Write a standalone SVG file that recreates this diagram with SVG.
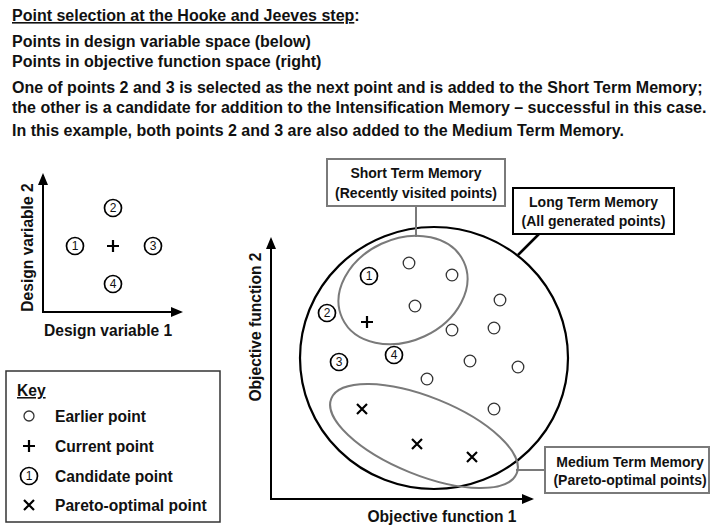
<svg xmlns="http://www.w3.org/2000/svg" width="711" height="527" viewBox="0 0 711 527">
<style>
text{font-family:"Liberation Sans",Arial,sans-serif;fill:#111;}
.t{font-size:16px;font-weight:bold;}
.lab{font-size:15.6px;font-weight:bold;}
.box{font-size:14px;font-weight:bold;text-anchor:middle;}
.num{font-size:12px;text-anchor:middle;}
.axis{stroke:#000;stroke-width:2;fill:none;}
.pt{fill:#fff;stroke:#333;stroke-width:1.3;}
.cand{fill:#fff;stroke:#000;stroke-width:1.7;}
.plus{stroke:#000;stroke-width:2.2;fill:none;}
.x{stroke:#000;stroke-width:2.2;fill:none;}
.gray{stroke:#7a7a7a;stroke-width:2;fill:none;}
.grayBox{stroke:#7a7a7a;stroke-width:2;fill:#fff;}
.blackBox{stroke:#000;stroke-width:2;fill:#fff;}
</style>
<defs>
<marker id="arr" markerUnits="userSpaceOnUse" markerWidth="12" markerHeight="10" viewBox="0 0 12 10" refX="10" refY="5" orient="auto">
<path d="M0,0 L12,5 L0,10 z" fill="#000"/>
</marker>
<g id="plusSym"><path class="plus" d="M-6,0 H6 M0,-6 V6"/></g>
<g id="xSym"><path class="x" d="M-5,-5 L5,5 M-5,5 L5,-5"/></g>
</defs>
<rect width="711" height="527" fill="#fff"/>

<g id="header">
<text class="t" x="12" y="21"><tspan text-decoration="underline">Point selection at the Hooke and Jeeves step</tspan>:</text>
<text class="t" x="12" y="47">Points in design variable space (below)</text>
<text class="t" x="12" y="67">Points in objective function space (right)</text>
<text class="t" x="12" y="93">One of points 2 and 3 is selected as the next point and is added to the Short Term Memory;</text>
<text class="t" x="12" y="113">the other is a candidate for addition to the Intensification Memory – successful in this case.</text>
<text class="t" x="12" y="136">In this example, both points 2 and 3 are also added to the Medium Term Memory.</text>
</g>

<g id="design-space">
<line class="axis" x1="43" y1="312" x2="43" y2="175" marker-end="url(#arr)"/>
<line class="axis" x1="42" y1="312" x2="181" y2="312" marker-end="url(#arr)"/>
<text class="lab" x="44" y="336">Design variable 1</text>
<text class="lab" x="33" y="247.5" text-anchor="middle" transform="rotate(-90 33 247.5)">Design variable 2</text>
<g id="dv-p2"><circle class="cand" cx="113" cy="208" r="8.5"/><text class="num" x="113" y="212.3">2</text></g>
<g id="dv-p1"><circle class="cand" cx="75" cy="246" r="8.5"/><text class="num" x="75" y="250.3">1</text></g>
<g id="dv-cur"><use href="#plusSym" x="113" y="246"/></g>
<g id="dv-p3"><circle class="cand" cx="153" cy="246" r="8.5"/><text class="num" x="153" y="250.3">3</text></g>
<g id="dv-p4"><circle class="cand" cx="113" cy="284" r="8.5"/><text class="num" x="113" y="288.3">4</text></g>
</g>

<g id="key">
<rect x="6" y="371" width="214" height="151" fill="#fff" stroke="#333" stroke-width="1.5"/>
<text class="lab" x="17" y="396" text-decoration="underline">Key</text>
<circle class="pt" cx="29" cy="416" r="5"/>
<text class="lab" x="55" y="422">Earlier point</text>
<use href="#plusSym" x="29" y="446"/>
<text class="lab" x="55" y="452">Current point</text>
<circle class="cand" cx="29" cy="476" r="8.5"/><text class="num" x="29" y="480.3">1</text>
<text class="lab" x="55" y="482">Candidate point</text>
<use href="#xSym" x="29" y="505"/>
<text class="lab" x="55" y="511">Pareto-optimal point</text>
</g>

<g id="objective-space">
<line class="axis" x1="271" y1="499" x2="271" y2="239" marker-end="url(#arr)"/>
<line class="axis" x1="270" y1="499" x2="532" y2="499" marker-end="url(#arr)"/>
<text class="lab" x="442" y="522" text-anchor="middle">Objective function 1</text>
<text class="lab" x="261" y="327" text-anchor="middle" transform="rotate(-90 261 327)">Objective function 2</text>
</g>

<g id="long-term-memory">
<ellipse cx="434" cy="358" rx="134" ry="131" fill="none" stroke="#000" stroke-width="2.2"/>
</g>
<g id="short-term-memory">
<ellipse cx="403" cy="290" rx="67" ry="51" transform="rotate(-25 403 290)" class="gray"/>
</g>
<g id="medium-term-memory">
<ellipse cx="424" cy="436" rx="100" ry="39" transform="rotate(22 424 436)" class="gray"/>
</g>

<g id="points">
<circle class="pt" cx="409" cy="263" r="5.8"/>
<circle class="pt" cx="452" cy="275" r="5.8"/>
<circle class="pt" cx="415" cy="306" r="5.8"/>
<circle class="pt" cx="452" cy="330" r="5.8"/>
<circle class="pt" cx="500" cy="300" r="5.8"/>
<circle class="pt" cx="494" cy="328" r="5.8"/>
<circle class="pt" cx="470" cy="361" r="5.8"/>
<circle class="pt" cx="518" cy="367" r="5.8"/>
<circle class="pt" cx="427" cy="379" r="5.8"/>
<circle class="pt" cx="494" cy="409" r="5.8"/>
<g id="of-p1"><circle class="cand" cx="369" cy="276" r="8.5"/><text class="num" x="369" y="280.3">1</text></g>
<g id="of-p2"><circle class="cand" cx="327" cy="313" r="8.5"/><text class="num" x="327" y="317.3">2</text></g>
<g id="of-p3"><circle class="cand" cx="339" cy="362" r="8.5"/><text class="num" x="339" y="366.3">3</text></g>
<g id="of-p4"><circle class="cand" cx="394" cy="355" r="8.5"/><text class="num" x="394" y="359.3">4</text></g>
<use href="#plusSym" x="367" y="322"/>
<use href="#xSym" x="362" y="409"/>
<use href="#xSym" x="417" y="444"/>
<use href="#xSym" x="472" y="457"/>
</g>

<g id="connectors">
<line x1="416" y1="206" x2="416" y2="237" stroke="#7a7a7a" stroke-width="2"/>
<line x1="539" y1="234" x2="518" y2="255" stroke="#000" stroke-width="2.5"/>
<line x1="516" y1="470" x2="545" y2="470" stroke="#7a7a7a" stroke-width="2"/>
</g>

<g id="stm-label">
<rect class="grayBox" x="327" y="159" width="178" height="47"/>
<text class="box" x="416" y="178">Short Term Memory</text>
<text class="box" x="416" y="198">(Recently visited points)</text>
</g>
<g id="ltm-label">
<rect class="blackBox" x="513" y="188" width="161" height="46"/>
<text class="box" x="593.5" y="207">Long Term Memory</text>
<text class="box" x="593.5" y="226">(All generated points)</text>
</g>
<g id="mtm-label">
<rect class="grayBox" x="545" y="447" width="164" height="46"/>
<text class="box" x="630" y="467">Medium Term Memory</text>
<text class="box" x="630" y="485">(Pareto-optimal points)</text>
</g>
</svg>
